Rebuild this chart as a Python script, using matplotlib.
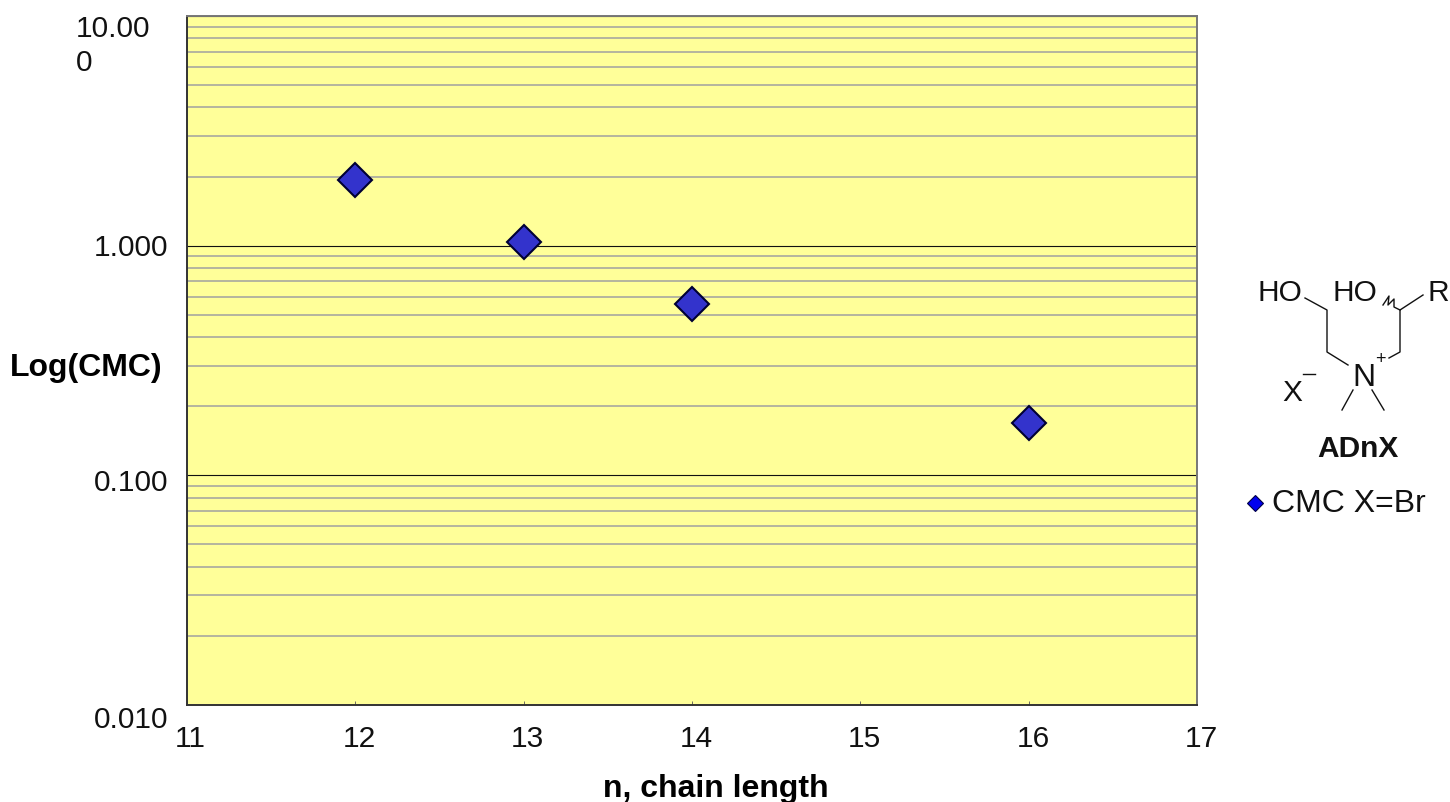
import matplotlib
matplotlib.use("Agg")
import matplotlib.pyplot as plt
from matplotlib.ticker import FixedLocator, NullFormatter

plt.rcParams["font.family"] = ["Liberation Sans", "DejaVu Sans"]

chain_length = [12, 13, 14, 16]
cmc_br = [1.94, 1.04, 0.555, 0.169]
x_ticks = [11, 12, 13, 14, 15, 16, 17]
y_major = [0.01, 0.1, 1, 10]
y_labels = ["0.010", "0.100", "1.000", "10.00\n0"]
y_minor = [m * d for d in (0.01, 0.1, 1) for m in range(2, 10)]

W, H = 1450, 802
fig = plt.figure(figsize=(W / 100, H / 100), dpi=100)
ax = fig.add_axes([187 / W, 1 - 705 / H, 1010 / W, 689 / H])
ax.set_facecolor("#FFFF99")
ax.set_yscale("log")
ax.set_xlim(11, 17)
ax.set_ylim(0.01, 10)

ax.yaxis.set_major_locator(FixedLocator(y_major))
ax.yaxis.set_minor_locator(FixedLocator(y_minor))
ax.yaxis.set_major_formatter(NullFormatter())
ax.yaxis.set_minor_formatter(NullFormatter())
ax.grid(True, which="major", axis="y", color="#111111", lw=0.8)
ax.grid(True, which="minor", axis="y", color="#a0a0a0", lw=1.1)
ax.set_axisbelow(True)

ax.set_xticks(x_ticks)
ax.set_xticklabels([])
ax.tick_params(axis="x", direction="in", length=3, width=0.6, color="#555555")
ax.tick_params(axis="y", which="both", length=0)
for s in ax.spines.values():
    s.set_color("#333333")
    s.set_linewidth(1.4)
ax.spines["top"].set_color("#777777")
ax.spines["right"].set_color("#777777")

ax.plot(chain_length, cmc_br, linestyle="none", marker="D", markersize=17,
        markerfacecolor="#3333CC", markeredgecolor="#000033", markeredgewidth=1.5,
        clip_on=False, zorder=5)

# overlay in picture pixels for the text and the structure
ov = fig.add_axes([0, 0, 1, 1], facecolor="none")
ov.set_xlim(0, W)
ov.set_ylim(H, 0)
ov.axis("off")

FS = 21.5
for t, lab, px in zip(x_ticks, map(str, x_ticks), [190, 359, 527, 696, 864, 1033, 1201]):
    ov.text(px, 739, lab, fontsize=FS, ha="center", va="center", color="#111111")
ov.text(168, 720, y_labels[0], fontsize=FS, ha="right", va="center", color="#111111")
ov.text(168, 483, y_labels[1], fontsize=FS, ha="right", va="center", color="#111111")
ov.text(168, 248, y_labels[2], fontsize=FS, ha="right", va="center", color="#111111")
ov.text(76, 46, y_labels[3], fontsize=FS, ha="left", va="center", color="#111111",
        linespacing=1.25)

ov.text(86, 368, "Log(CMC)", fontsize=23, fontweight="bold", ha="center", va="center")
ov.text(716, 789, "n, chain length", fontsize=23, fontweight="bold", ha="center", va="center")

# ADnX structure
bonds = [
    [(1305, 298), (1327, 310), (1327, 352), (1348, 365)],
    [(1389, 358), (1400, 352), (1400, 310), (1423, 295)],
    [(1353, 390), (1342, 410)],
    [(1372, 390), (1384, 410)],
    [(1383, 305), (1389, 296), (1388, 305), (1394, 299), (1394, 307), (1400, 310)],
    [(1303, 374), (1315, 374)],
]
for b in bonds:
    ov.plot([p[0] for p in b], [p[1] for p in b], color="#111111", lw=1.0)
ov.text(1280, 293, "HO", fontsize=21.5, ha="center", va="center", color="#111111")
ov.text(1355, 293, "HO", fontsize=21.5, ha="center", va="center", color="#111111")
ov.text(1438, 293, "R", fontsize=21.5, ha="center", va="center", color="#111111")
ov.text(1364, 378, "N", fontsize=23, ha="center", va="center", color="#111111")
ov.text(1380, 360, "+", fontsize=13, ha="center", va="center", color="#111111")
ov.text(1292, 393, "X", fontsize=21.5, ha="center", va="center", color="#111111")
ov.text(1358, 449, "ADnX", fontsize=21.5, fontweight="bold", ha="center", va="center", color="#111111")

# legend
ov.plot([1255], [503], linestyle="none", marker="D", markersize=8,
        markerfacecolor="#0000EE", markeredgecolor="#000044", markeredgewidth=0.8)
ov.text(1272, 504, "CMC X=Br", fontsize=23, ha="left", va="center", color="#111111")

fig.savefig("out.png", dpi=100, facecolor="white")
